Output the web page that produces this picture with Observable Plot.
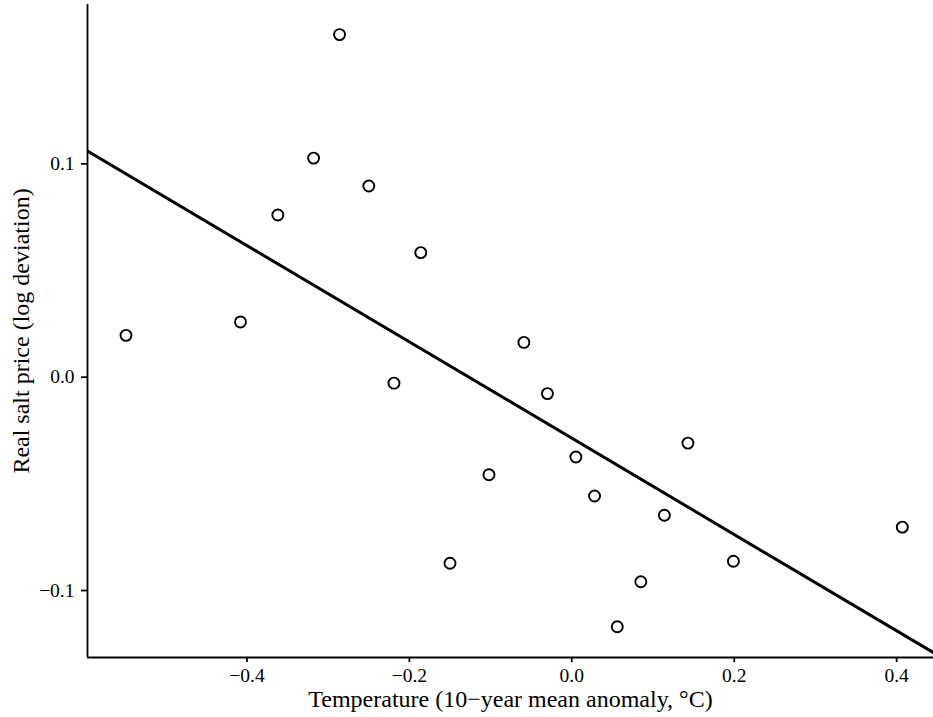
<!DOCTYPE html>
<html>
<head>
<meta charset="utf-8">
<script src="https://cdn.jsdelivr.net/npm/d3@7"></script>
<script src="https://cdn.jsdelivr.net/npm/@observablehq/plot@0.6"></script>
<style>
  html, body { margin: 0; padding: 0; background: #fff; }
  svg { display: block; }
</style>
</head>
<body>
<div id="chart"></div>
<script>
// Observed points: temperature anomaly (°C) vs. real salt price (log deviation)
const temperature = [-0.549, -0.408, -0.362, -0.318, -0.286, -0.250, -0.219, -0.186, -0.150, -0.102,
                     -0.059, -0.030, 0.005, 0.028, 0.056, 0.085, 0.114, 0.143, 0.199, 0.407];
const saltPrice   = [0.0196, 0.0259, 0.0760, 0.1027, 0.1606, 0.0896, -0.0028, 0.0584, -0.0872, -0.0457,
                     0.0163, -0.0077, -0.0374, -0.0557, -0.1170, -0.0959, -0.0647, -0.0309, -0.0863, -0.0703];

// Fitted linear trend
const fitIntercept = -0.0286;
const fitSlope = -0.2257;

// Axes
const xDomain = [-0.5964, 0.4454];
const yDomain = [-0.1314, 0.1747];
const xTicks = [-0.4, -0.2, 0.0, 0.2, 0.4];
const yTicks = [-0.1, 0.0, 0.1];
const xTitle = "Temperature (10\u2212year mean anomaly, \u00b0C)";
const yTitle = "Real salt price (log deviation)";

const points = temperature.map((t, i) => ({x: t, y: saltPrice[i]}));
const fitLine = xDomain.map(x => ({x, y: fitIntercept + fitSlope * x}));
const fmt = d3.format(".1f");

const chart = Plot.plot({
  width: 933,
  height: 717,
  marginLeft: 87,
  marginRight: 0,
  marginTop: 4,
  marginBottom: 60,
  style: {fontFamily: "'Liberation Serif', 'Times New Roman', serif", fontSize: "19px", color: "black", background: "white"},
  x: {domain: xDomain},
  y: {domain: yDomain},
  marks: [
    Plot.ruleX([xDomain[0]], {stroke: "black", strokeWidth: 1.8}),
    Plot.ruleY([yDomain[0]], {stroke: "black", strokeWidth: 1.8}),
    Plot.axisX({ticks: xTicks, tickFormat: fmt, tickSize: 5, tickPadding: 6, label: null, fontSize: 19.5, strokeWidth: 1.8}),
    Plot.axisY({ticks: yTicks, tickFormat: fmt, tickSize: 6, tickPadding: 7, label: null, fontSize: 19.5, strokeWidth: 1.8}),
    Plot.line(fitLine, {x: "x", y: "y", stroke: "black", strokeWidth: 3, clip: true}),
    Plot.dot(points, {x: "x", y: "y", r: 5.5, stroke: "black", strokeWidth: 1.9, fill: "none"}),
    Plot.text([xTitle], {text: d => d, frameAnchor: "bottom", dy: 49, lineAnchor: "bottom", textAnchor: "middle", fontSize: 24, fill: "black"}),
    Plot.text([yTitle], {text: d => d, frameAnchor: "left", dx: -59, rotate: -90, lineAnchor: "bottom", textAnchor: "middle", fontSize: 24, fill: "black"})
  ]
});
document.getElementById("chart").appendChild(chart);
</script>
</body>
</html>
